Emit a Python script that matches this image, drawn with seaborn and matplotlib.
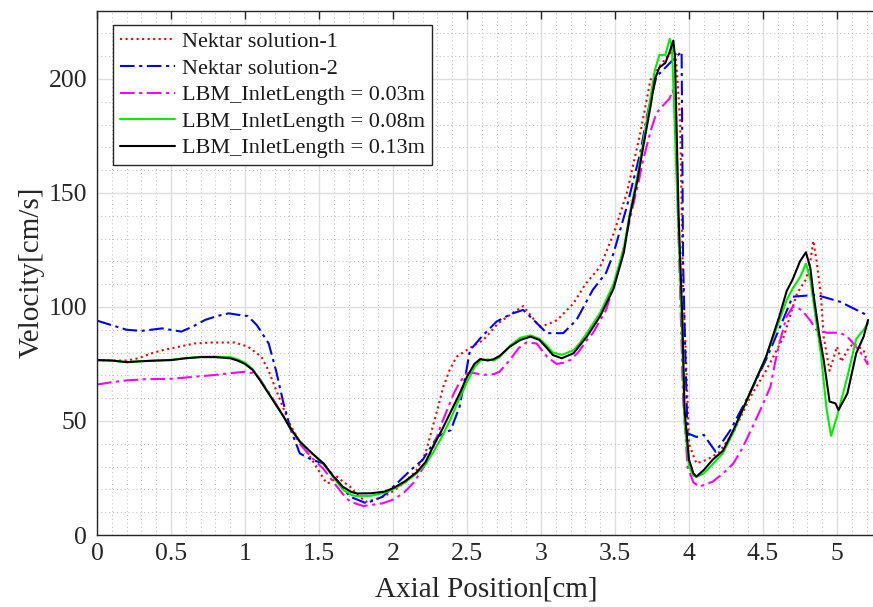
import numpy as np
import pandas as pd
import matplotlib
matplotlib.use("Agg")
import matplotlib.pyplot as plt
import seaborn as sns
from matplotlib.ticker import MultipleLocator

# ---------------- data ----------------
series_names = ["Nektar solution-1", "Nektar solution-2",
                "LBM_InletLength = 0.03m", "LBM_InletLength = 0.08m",
                "LBM_InletLength = 0.13m"]

nek1_x = [0, 0.1, 0.2, 0.28, 0.36, 0.44, 0.55, 0.66, 0.77, 0.93, 1.02, 1.11, 1.16,
          1.21, 1.30, 1.37, 1.44, 1.50, 1.55, 1.58, 1.62, 1.66, 1.71, 1.76, 1.82,
          1.90, 1.98, 2.08, 2.16, 2.22, 2.25, 2.30, 2.34, 2.38, 2.43, 2.52, 2.61,
          2.71, 2.80, 2.88, 2.99, 3.05, 3.11, 3.22, 3.30, 3.40, 3.49, 3.58, 3.67,
          3.74, 3.80, 3.87, 3.91, 3.94, 3.96, 3.98, 4.0, 4.05, 4.12, 4.2, 4.3,
          4.41, 4.52, 4.64, 4.73, 4.79, 4.82, 4.84, 4.86, 4.89, 4.91, 4.95, 5.0,
          5.03, 5.07, 5.11, 5.18, 5.21]
nek1_y = [76.7, 76.5, 76.5, 77.5, 79.5, 81, 82.5, 84, 84.4, 84.4, 82.6, 78.2, 72,
          63.6, 49, 41, 34.3, 28, 22.7, 23, 25.6, 23.5, 21.2, 17.5, 14.6,
          16, 18.3, 23, 28.5, 36, 43.1, 55, 65, 72, 78.2, 82, 85.5,
          92.8, 97, 100.4, 91.4, 92.5, 94.3, 101.6, 110, 117.7, 132, 150, 176,
          199.6, 205.4, 211.3, 211, 182, 109, 76.8, 40, 31.4, 33, 36, 45,
          60, 72, 87, 106, 112, 120, 129, 121, 106, 87, 72, 82.6,
          76, 81, 84, 81, 74.6]

nek2_x = [0.0, 0.1, 0.2, 0.30, 0.44, 0.57, 0.65, 0.73, 0.81, 0.89, 0.96, 1.02, 1.08,
          1.16, 1.21, 1.26, 1.31, 1.37, 1.45, 1.53, 1.62, 1.71, 1.82, 1.93, 2.05,
          2.12, 2.20, 2.30, 2.39, 2.45, 2.49, 2.52, 2.60, 2.70, 2.80, 2.88, 2.95,
          3.04, 3.15, 3.24, 3.35, 3.44, 3.49, 3.58, 3.67, 3.72, 3.78, 3.87, 3.95,
          3.96, 3.975, 3.99, 4.05, 4.10, 4.18, 4.28, 4.41, 4.52, 4.62, 4.70, 4.86,
          5.02, 5.20]
nek2_y = [94, 92, 90, 89.5, 90.6, 89.2, 91.5, 94.3, 96, 97.2, 96.5, 96, 92,
          84, 72, 57.8, 46, 35.8, 33, 31.4, 24.1, 16.8, 13.9, 16.8, 24.1,
          28.5, 32.9, 43.1, 46, 56.3, 70, 81, 87, 93.6, 97, 98.7, 94.3,
          88.5, 88.5, 94.3, 107.5, 115, 123.5, 144, 167.4, 185, 201, 206.9, 212,
          120, 80, 44.6, 43, 43.9, 36.5, 46, 62, 76.8, 92, 104.5, 105.3,
          102.3, 96.5]

lbm03_x = [0, 0.1, 0.2, 0.32, 0.5, 0.66, 0.8, 0.89, 1.0, 1.05, 1.09, 1.18, 1.26,
           1.3, 1.37, 1.45, 1.53, 1.6, 1.66, 1.71, 1.80, 1.93, 2.0, 2.07, 2.14,
           2.21, 2.27, 2.32, 2.41, 2.45, 2.50, 2.55, 2.61, 2.68, 2.72, 2.79, 2.85,
           2.90, 2.97, 3.04, 3.105, 3.15, 3.20, 3.25, 3.31, 3.35, 3.44, 3.53, 3.62,
           3.66, 3.69, 3.74, 3.78, 3.82, 3.87, 3.89, 3.905, 3.93, 3.96, 3.99, 4.03,
           4.07, 4.16, 4.23, 4.30, 4.36, 4.43, 4.49, 4.55, 4.58, 4.61, 4.66, 4.70,
           4.73, 4.77, 4.82, 4.86, 4.93, 5.02, 5.07, 5.11, 5.16, 5.21]
lbm03_y = [66, 67, 67.8, 68.3, 68.5, 69.4, 70.2, 70.9, 71.6, 71, 69.4, 60.7, 52,
           47.5, 40, 34, 29, 23, 18, 14.6, 12.7, 13.9, 15.5, 18.3, 23,
           30, 38, 47.5, 62, 67, 71, 71, 70.2, 70.5, 71.6, 76.8, 82,
           84.4, 84, 78.2, 75, 75.5, 76.8, 80, 85.5, 88.5, 98.7, 117.7, 144,
           155, 164.5, 177, 185, 188, 191.5, 195, 190, 130, 60, 30, 23,
           21.2, 23.4, 27, 31.4, 38, 47.5, 56, 65, 75, 84, 95.8, 100,
           100, 98, 94, 90, 88.7, 88.7, 87, 84, 80, 74.6]

lbm08_x = [0, 0.1, 0.2, 0.3, 0.4, 0.5, 0.6, 0.7, 0.8, 0.9, 0.95, 1.0, 1.05, 1.1,
           1.15, 1.2, 1.26, 1.3, 1.37, 1.45, 1.53, 1.6, 1.66, 1.72, 1.76, 1.85,
           1.94, 2.0, 2.08, 2.16, 2.22, 2.27, 2.33, 2.39, 2.45, 2.5, 2.55, 2.59,
           2.64, 2.68, 2.72, 2.79, 2.86, 2.93, 2.99, 3.04, 3.08, 3.14, 3.22, 3.26,
           3.31, 3.40, 3.49, 3.56, 3.60, 3.65, 3.69, 3.74, 3.77, 3.80, 3.84, 3.87,
           3.885, 3.92, 3.95, 3.97, 4.0, 4.03, 4.05, 4.10, 4.16, 4.23, 4.30, 4.41,
           4.52, 4.61, 4.66, 4.70, 4.75, 4.79, 4.82, 4.85, 4.89, 4.93, 4.96, 5.0,
           5.07, 5.13, 5.18, 5.21]
lbm08_y = [76.7, 76.5, 75.8, 76.2, 76.5, 76.8, 77.6, 78.1, 78.2, 78, 77, 75.5, 72.8, 68.3,
           63.2, 58.2, 52, 47.5, 41, 36, 31.2, 25, 20, 17.5, 17, 17.2,
           18.5, 20, 23, 27, 31, 36, 43, 51, 60, 67, 73.5, 76.5,
           77, 76.5, 78, 83, 86.5, 87.5, 86, 83, 80, 79, 81, 84,
           88.5, 97.5, 110, 126, 141, 157, 172, 192, 204, 210.5, 210.5, 217.6,
           214, 150, 95, 50, 30, 26, 25.5, 27, 31, 36, 45, 62,
           78, 94, 103, 108, 113, 119, 112, 98, 80, 55, 43.5, 52,
           69.4, 86, 90, 93]

lbm13_x = [0, 0.1, 0.2, 0.3, 0.4, 0.5, 0.6, 0.7, 0.8, 0.9, 0.95, 1.0, 1.05, 1.1,
           1.15, 1.2, 1.26, 1.3, 1.37, 1.45, 1.53, 1.6, 1.66, 1.72, 1.76, 1.85,
           1.94, 2.0, 2.08, 2.16, 2.22, 2.27, 2.33, 2.39, 2.45, 2.5, 2.55, 2.59,
           2.64, 2.68, 2.72, 2.79, 2.86, 2.93, 2.99, 3.04, 3.08, 3.14, 3.22, 3.26,
           3.31, 3.40, 3.49, 3.56, 3.60, 3.65, 3.69, 3.74, 3.77, 3.80, 3.84, 3.87,
           3.894, 3.905, 3.93, 3.955, 3.97, 4.0, 4.03, 4.05, 4.10, 4.16, 4.23, 4.30,
           4.41, 4.52, 4.61, 4.66, 4.70, 4.75, 4.79, 4.82, 4.84, 4.88, 4.91, 4.95,
           4.99, 5.01, 5.07, 5.13, 5.18, 5.21]
lbm13_y = [76.7, 76.5, 75.8, 76.2, 76.5, 76.7, 77.5, 78, 78, 77.5, 76.5, 75, 72.5, 68,
           63, 58, 52, 47.5, 41, 36, 31.4, 25.5, 21.2, 18.8, 18.2, 18.3,
           19, 20.5, 23.5, 27.5, 32, 38.7, 46, 54, 62, 69.4, 75, 77.2,
           76.5, 77.1, 78.5, 82.6, 85.5, 87, 85.5, 82, 78.9, 77.5, 79.7, 83,
           87, 96, 108, 124, 140, 155, 170, 188, 200, 205, 207, 212,
           216.8, 210, 140, 95, 55, 33, 27, 25.6, 28.5, 33, 37, 46,
           62, 78, 95.8, 107, 112, 120, 124, 117, 106, 88, 76.8, 58.5,
           57.7, 54.8, 62, 79.7, 87, 94.3]

x_ticks = [0, 0.5, 1, 1.5, 2, 2.5, 3, 3.5, 4, 4.5, 5]
x_tick_labels = ["0", "0.5", "1", "1.5", "2", "2.5", "3", "3.5", "4", "4.5", "5"]
y_ticks = [0, 50, 100, 150, 200]
y_tick_labels = ["0", "50", "100", "150", "200"]

# ---------------- build long-form table ----------------
xs = [nek1_x, nek2_x, lbm03_x, lbm08_x, lbm13_x]
ys = [nek1_y, nek2_y, lbm03_y, lbm08_y, lbm13_y]
frames = []
for name, x, y in zip(series_names, xs, ys):
    frames.append(pd.DataFrame({"pos": x, "vel": y, "series": name}))
df = pd.concat(frames, ignore_index=True)

styles = {
    "Nektar solution-1": dict(color="#ff0000", ls=":", lw=1.5),
    "Nektar solution-2": dict(color="#0000ff", ls=(0, (7, 2.2, 1.5, 2.2)), lw=1.5),
    "LBM_InletLength = 0.03m": dict(color="#ff00ff", ls=(0, (7, 2.2, 1.5, 2.2)), lw=1.5),
    "LBM_InletLength = 0.08m": dict(color="#00ee00", ls="-", lw=1.5),
    "LBM_InletLength = 0.13m": dict(color="#000000", ls="-", lw=1.5),
}

# ---------------- figure ----------------
sns.set_theme(style="white")
plt.rcParams["font.family"] = ["Liberation Serif", "DejaVu Serif"]

fig = plt.figure(figsize=(8.73, 6.07), dpi=100)
W, H = 873, 607
left_px, right_px, top_px, bottom_px = 97, 875, 10.5, 535
ax = fig.add_axes([left_px / W, 1 - bottom_px / H,
                   (right_px - left_px) / W, (bottom_px - top_px) / H])

for name in series_names:
    st = styles[name]
    sub = df[df["series"] == name]
    sns.lineplot(data=sub, x="pos", y="vel", ax=ax, sort=False, estimator=None,
                 color=st["color"], linestyle=st["ls"], linewidth=st["lw"],
                 label=name)

ax.set_xlim(0, (right_px - left_px) / 148.0)
ax.set_ylim(0, 230)
ax.set_xticks(x_ticks)
ax.set_xticklabels(x_tick_labels)
ax.set_yticks(y_ticks)
ax.set_yticklabels(y_tick_labels)
ax.xaxis.set_minor_locator(MultipleLocator(0.1))
ax.yaxis.set_minor_locator(MultipleLocator(10))

ax.grid(True, which="major", color="#dedede", linestyle="-", linewidth=1.0)
ax.grid(True, which="minor", color="#b8b8b8", linestyle=(0, (1, 3)), linewidth=0.7)
ax.set_axisbelow(True)

ax.tick_params(axis="both", which="major", direction="in", length=6, width=1.0,
               color="#262626", labelsize=18.5, top=True, right=False, pad=7,
               labelcolor="#262626")
ax.tick_params(axis="x", which="major", pad=6)
ax.tick_params(axis="both", which="minor", length=0)

for side in ["left", "bottom", "top"]:
    ax.spines[side].set_color("#262626")
    ax.spines[side].set_linewidth(1.0)
ax.spines["right"].set_visible(False)

ax.set_xlabel("Axial Position[cm]", fontsize=21, color="#262626", labelpad=8)
ax.set_ylabel("Velocity[cm/s]", fontsize=21, color="#262626", labelpad=3)

leg = ax.legend(loc="upper left", bbox_to_anchor=((113 - left_px) / (right_px - left_px),
                                                   1 - (25 - top_px) / (bottom_px - top_px)),
                borderaxespad=0, fontsize=16, handlelength=2.5, handletextpad=0.3,
                labelspacing=0.27, borderpad=0.3, frameon=True, fancybox=False)
leg.get_frame().set_edgecolor("#262626")
leg.get_frame().set_linewidth(1.0)
leg.get_frame().set_facecolor("white")
leg.get_frame().set_alpha(1.0)
for t in leg.get_texts():
    t.set_color("#1a1a1a")

fig.savefig("out.png", dpi=100)
